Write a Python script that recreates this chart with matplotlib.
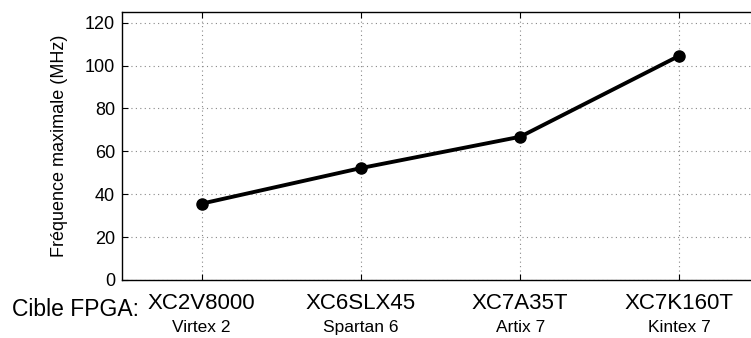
import matplotlib
matplotlib.use("Agg")
import matplotlib.pyplot as plt

plt.rcParams['font.family'] = ['Liberation Sans', 'DejaVu Sans']

targets = ["XC2V8000", "XC6SLX45", "XC7A35T", "XC7K160T"]
families = ["Virtex 2", "Spartan 6", "Artix 7", "Kintex 7"]
freq_mhz = [35.6, 52.2, 66.8, 104.6]
yticks = [0, 20, 40, 60, 80, 100, 120]

W, H = 751, 338
fig = plt.figure(figsize=(W/100, H/100), dpi=100)
left, right, top, bottom = 122, 759, 12, 280
ax = fig.add_axes([left/W, 1 - bottom/H, (right-left)/W, (bottom-top)/H])

x = list(range(len(targets)))
ax.plot(x, freq_mhz, color='black', lw=2.8, marker='o', ms=8, zorder=3)
ax.set_xlim(-0.5, 3.5)
ax.set_ylim(0, 125)
ax.set_yticks(yticks)
ax.set_xticks(x)
ax.set_xticklabels([])
ax.grid(True, linestyle=(0, (1, 3)), color='#888888', lw=0.8)
ax.tick_params(axis='both', direction='in', length=4, width=0.8, top=True, right=False, labelsize=13)
ax.tick_params(axis='y', pad=5)
for s in ax.spines.values():
    s.set_linewidth(1.0)
ax.set_ylabel("Fréquence maximale (MHz)", fontsize=13, labelpad=12)

for xi, t, f in zip(x, targets, families):
    ax.annotate(t, xy=(xi, 0), xycoords=('data', 'axes fraction'), xytext=(0, -9.5),
                textcoords='offset points', ha='center', va='top', fontsize=16)
    ax.annotate(f, xy=(xi, 0), xycoords=('data', 'axes fraction'), xytext=(0, -29),
                textcoords='offset points', ha='center', va='top', fontsize=12.5)
fig.text(12/W, 1 - 310/H, "Cible FPGA:", fontsize=16.5, ha='left', va='center')

fig.savefig("out.png", dpi=100)
